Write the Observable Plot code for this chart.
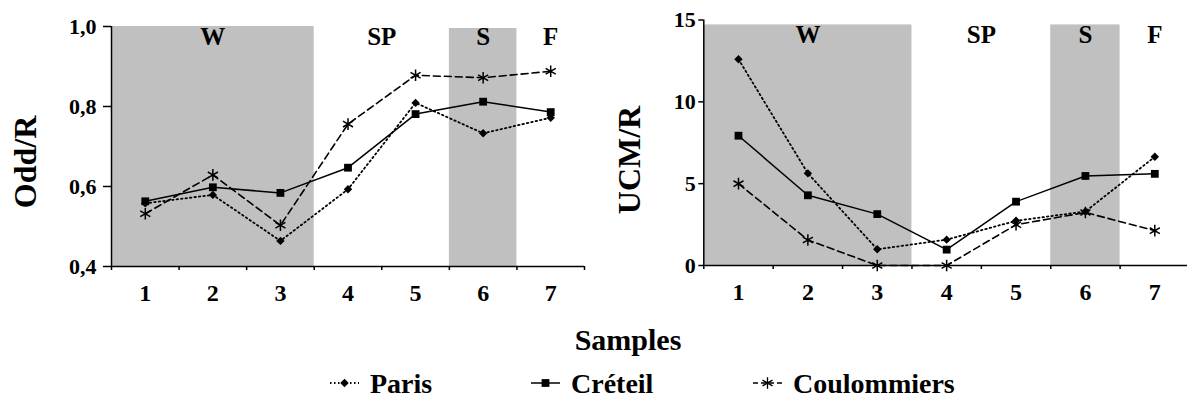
<!DOCTYPE html>
<html>
<head>
<meta charset="utf-8">
<script src="https://cdn.jsdelivr.net/npm/d3@7"></script>
<script src="https://cdn.jsdelivr.net/npm/@observablehq/plot@0.6"></script>
<style>
  html, body { margin: 0; padding: 0; background: #fff; overflow: hidden; }
  #wrap { position: relative; width: 1187px; height: 398px; overflow: hidden; font-family: "Liberation Serif", "Times New Roman", serif; }
</style>
</head>
<body>
<div id="wrap"></div>
<script>
// ---- data ----
const samples = [1, 2, 3, 4, 5, 6, 7];
const sampleBounds = [0.5, 1.5, 2.5, 3.5, 4.5, 5.5, 6.5, 7.5];
const seriesNames = ["Paris", "Créteil", "Coulommiers"];
const parisOdd = [0.558, 0.579, 0.464, 0.593, 0.809, 0.733, 0.772];
const creteilOdd = [0.563, 0.598, 0.584, 0.647, 0.781, 0.812, 0.786];
const coulommiersOdd = [0.532, 0.629, 0.503, 0.756, 0.878, 0.872, 0.888];
const parisUcm = [12.6, 5.63, 0.99, 1.58, 2.73, 3.3, 6.64];
const creteilUcm = [7.93, 4.29, 3.14, 0.97, 3.9, 5.47, 5.6];
const coulommiersUcm = [5.0, 1.56, 0, 0, 2.49, 3.24, 2.13];
const seasonLabels = ["W", "SP", "S", "F"];
const seasonFrom = [1, 4, 6, 7];
const seasonTo = [3, 5, 6, 7];
const seasonShaded = [true, false, true, false];
const oddTicks = [0.4, 0.6, 0.8, 1.0];
const ucmTicks = [0, 5, 10, 15];

const FONT = '"Liberation Serif", "Times New Roman", serif';
const seasons = seasonLabels.map((label, i) => ({label, from: seasonFrom[i], to: seasonTo[i], shaded: seasonShaded[i]}));
const styles = {
  "Paris": {symbol: "diamond2", r: 3.8, dash: "1.5,3", width: 1.8, fill: "black", stroke: "none"},
  "Créteil": {symbol: "square", r: 4.4, dash: null, width: 1.5, fill: "black", stroke: "none"},
  "Coulommiers": {symbol: "asterisk", r: 5.5, dash: "7,4", width: 1.6, fill: "none", stroke: "black"}
};

function panel({values, yDomain, ticks, tickFmt, left, width, mL, mR, mT, mB, shadeTop, tickSize, tickPadding}) {
  const marks = [];
  const ymin = yDomain[0];
  marks.push(Plot.rect(seasons.filter(d => d.shaded), {
    x1: d => d.from - 0.5, x2: d => d.to + 0.5, y1: ymin, y2: (d, i) => shadeTop[i], fill: "#c0c0c0"
  }));
  marks.push(Plot.text(seasons, {
    x: d => (d.from + d.to) / 2, y: shadeTop[0], text: "label", lineAnchor: "top", dy: 0.5,
    fontSize: 25, fontWeight: "bold", fontFamily: FONT, fill: "black"
  }));
  seriesNames.forEach((name, k) => {
    const rows = samples.map((s, i) => ({sample: s, value: values[k][i]}));
    const st = styles[name];
    marks.push(Plot.line(rows, {x: "sample", y: "value", stroke: "black", strokeWidth: st.width, strokeDasharray: st.dash}));
  });
  seriesNames.forEach((name, k) => {
    const rows = samples.map((s, i) => ({sample: s, value: values[k][i]}));
    const st = styles[name];
    marks.push(Plot.dot(rows, {x: "sample", y: "value", symbol: st.symbol, r: st.r, fill: st.fill, stroke: st.stroke, strokeWidth: 1.5}));
  });
  marks.push(Plot.ruleX([0.5], {y1: yDomain[0], y2: yDomain[1], stroke: "black", strokeWidth: 1.5}));
  marks.push(Plot.ruleY([ymin], {stroke: "black", strokeWidth: 1.5}));
  // tick lines
  marks.push(Plot.axisY({ticks, tickFormat: () => "", tickSize, label: null, strokeWidth: 1.5}));
  marks.push(Plot.axisX({ticks: sampleBounds, tickFormat: () => "", tickSize: 4, label: null, strokeWidth: 1.5}));
  // tick labels
  marks.push(Plot.text(ticks, {
    x: 0.5, y: d => d, text: d => tickFmt(d), textAnchor: "end", dx: -(tickSize + tickPadding),
    fontSize: 22, fontWeight: "bold", fontFamily: FONT, fill: "black"
  }));
  marks.push(Plot.text(samples, {
    x: d => d, y: ymin, text: d => String(d), lineAnchor: "top", dy: 17,
    fontSize: 24, fontWeight: "bold", fontFamily: FONT, fill: "black"
  }));
  const svg = Plot.plot({
    width, height: 310, marginLeft: mL, marginRight: mR, marginTop: mT, marginBottom: mB,
    x: {domain: [0.5, 7.5], axis: null},
    y: {domain: yDomain, axis: null},
    style: {fontFamily: FONT, background: "transparent", color: "black", overflow: "visible"},
    marks
  });
  svg.style.position = "absolute";
  svg.style.left = left + "px";
  svg.style.top = "0px";
  return svg;
}

const wrap = document.getElementById("wrap");
wrap.appendChild(panel({
  values: [parisOdd, creteilOdd, coulommiersOdd], yDomain: [0.4, 1.0], ticks: oddTicks,
  tickFmt: d => d.toFixed(1).replace(".", ","), left: 0, width: 600, mL: 111, mR: 16, mT: 26, mB: 44,
  shadeTop: [1.0, 0.995], tickSize: 8, tickPadding: 7
}));
wrap.appendChild(panel({
  values: [parisUcm, creteilUcm, coulommiersUcm], yDomain: [0, 15], ticks: ucmTicks,
  tickFmt: d => String(d), left: 590, width: 600, mL: 113.3, mR: 1, mT: 19.5, mB: 45,
  shadeTop: [14.7, 14.7], tickSize: 5, tickPadding: 3
}));

// ---- titles & legend overlay ----
const ov = d3.select(wrap).append("svg").attr("width", 1187).attr("height", 398)
  .style("position", "absolute").style("left", "0px").style("top", "0px")
  .attr("font-family", FONT).attr("font-weight", "bold").attr("fill", "black");
ov.append("text").attr("transform", "translate(36,162) rotate(-90)").attr("text-anchor", "middle").attr("font-size", 32).text("Odd/R");
ov.append("text").attr("transform", "translate(640,160) rotate(-90)").attr("text-anchor", "middle").attr("font-size", 32).text("UCM/R");
ov.append("text").attr("x", 628).attr("y", 350).attr("text-anchor", "middle").attr("font-size", 30).text("Samples");

const legX = [330, 531, 753];
seriesNames.forEach((name, i) => {
  const st = styles[name];
  const g = ov.append("g").attr("transform", `translate(${legX[i]},383)`);
  g.append("line").attr("x1", 0).attr("x2", 29).attr("y1", 0).attr("y2", 0)
    .attr("stroke", "black").attr("stroke-width", st.width).attr("stroke-dasharray", st.dash ? (name === "Paris" ? "1.5,2.5" : "5,3") : null);
  const sym = d3.symbol().type(st.symbol === "diamond2" ? d3.symbolDiamond2 : st.symbol === "square" ? d3.symbolSquare : d3.symbolAsterisk).size(Math.PI * st.r * st.r);
  g.append("path").attr("transform", "translate(14.5,0)").attr("d", sym())
    .attr("fill", st.fill).attr("stroke", st.stroke).attr("stroke-width", 1.3);
  ov.append("text").attr("x", legX[i] + 40).attr("y", 393).attr("font-size", 28).text(name);
});
</script>
</body>
</html>
